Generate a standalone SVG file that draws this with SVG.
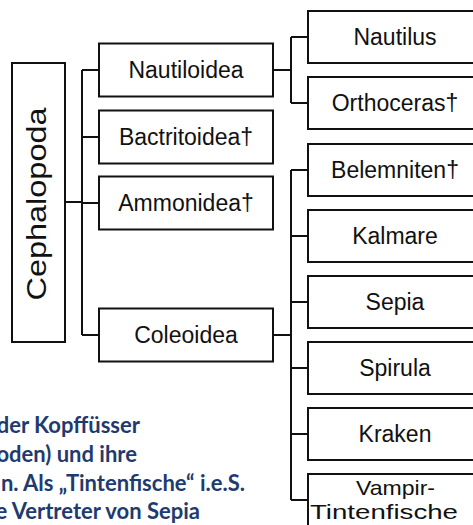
<svg xmlns="http://www.w3.org/2000/svg" width="473" height="525" viewBox="0 0 473 525">
<style>
.box{fill:#fff;stroke:#111;stroke-width:2}
.lbl{font-family:"Liberation Sans",Arial,sans-serif;font-size:23px;fill:#111;text-anchor:middle}
.con{fill:none;stroke:#111;stroke-width:2}
.note{font-family:Lato,"Open Sans",sans-serif;font-weight:bold;font-size:22px;fill:#1f3b6e;text-anchor:end}
</style>
<rect width="473" height="525" fill="#fff"/>
<g id="connectors">
<path class="con" d="M65 202H82M82 70V335M82 70H99M82 137H99M82 203H99M82 335H99"/>
<path class="con" d="M273 70H291M291 37V103M291 37H308M291 103H308"/>
<path class="con" d="M273 335H291M291 170V500M291 170H308M291 236H308M291 302H308M291 368H308M291 434H308M291 500H308"/>
</g>
<g id="cephalopoda"><rect class="box" x="12" y="63" width="53" height="279"/><text class="lbl" transform="translate(46,204) rotate(-90)" textLength="193" lengthAdjust="spacingAndGlyphs" style="font-size:28px">Cephalopoda</text></g>
<g id="nautiloidea"><rect class="box" x="99" y="43.5" width="174" height="53"/><text class="lbl" x="186" y="78">Nautiloidea</text></g>
<g id="bactritoidea"><rect class="box" x="99" y="110.5" width="174" height="53"/><text class="lbl" x="186" y="145">Bactritoidea†</text></g>
<g id="ammonidea"><rect class="box" x="99" y="176.5" width="174" height="53"/><text class="lbl" x="186" y="211">Ammonidea†</text></g>
<g id="coleoidea"><rect class="box" x="99" y="308.5" width="174" height="53"/><text class="lbl" x="186" y="343">Coleoidea</text></g>
<g id="nautilus"><rect class="box" x="308" y="11" width="176" height="52"/><text class="lbl" x="395" y="45">Nautilus</text></g>
<g id="orthoceras"><rect class="box" x="308" y="77" width="176" height="52"/><text class="lbl" x="395" y="111">Orthoceras†</text></g>
<g id="belemniten"><rect class="box" x="308" y="144" width="176" height="52"/><text class="lbl" x="395" y="178">Belemniten†</text></g>
<g id="kalmare"><rect class="box" x="308" y="210" width="176" height="52"/><text class="lbl" x="395" y="244">Kalmare</text></g>
<g id="sepia"><rect class="box" x="308" y="276" width="176" height="52"/><text class="lbl" x="395" y="310">Sepia</text></g>
<g id="spirula"><rect class="box" x="308" y="342" width="176" height="52"/><text class="lbl" x="395" y="376">Spirula</text></g>
<g id="kraken"><rect class="box" x="308" y="408" width="176" height="52"/><text class="lbl" x="395" y="442">Kraken</text></g>
<g id="vampir"><rect class="box" x="308" y="474" width="176" height="60"/><text class="lbl" x="395.5" y="494.5" textLength="79" lengthAdjust="spacingAndGlyphs" style="font-size:21px">Vampir-</text><text class="lbl" x="384" y="518.5" textLength="148" lengthAdjust="spacingAndGlyphs" style="font-size:21px">Tintenfische</text></g>
<g id="note">
<text class="note" x="140" y="433">der Kopffüsser</text>
<text class="note" x="137" y="462">oden) und ihre</text>
<text class="note" x="245" y="490.5">n. Als „Tintenfische“ i.e.S.</text>
<text class="note" x="200" y="519">e Vertreter von Sepia</text>
</g>
</svg>
